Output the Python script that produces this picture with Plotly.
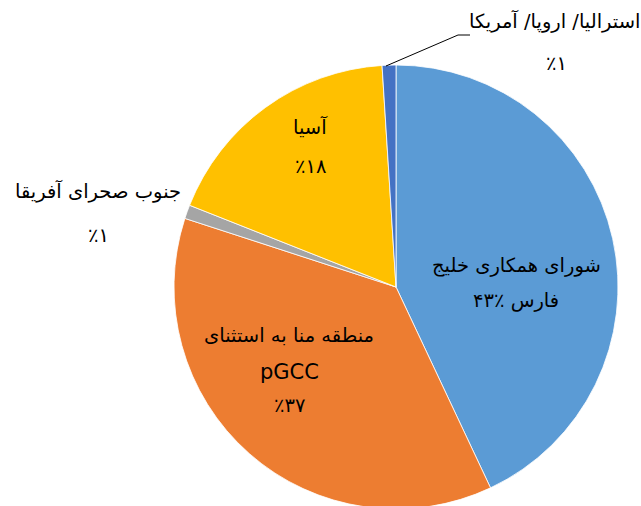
import plotly.graph_objects as go

# ---- data ----
categories = ["شورای همکاری خلیج فارس", "منطقه منا به استثنای pGCC",
              "جنوب صحرای آفریقا", "آسیا", "استرالیا/ اروپا/ آمریکا"]
values = [43, 37, 1, 18, 1]
pct_text = ["٪۴۳", "٪۳۷", "٪۱", "٪۱۸", "٪۱"]
colors = ["#5B9BD5", "#ED7D31", "#A5A5A5", "#FFC000", "#4472C4"]

W, H = 641, 574  # figure taller than window so the pie bottom is cropped like the reference

def px(x):
    return x / W

def py(y):
    return 1 - y / H

fig = go.Figure(go.Pie(
    labels=categories,
    values=values,
    marker=dict(colors=colors, line=dict(color="white", width=0.8)),
    sort=False,
    direction="clockwise",
    rotation=0,
    textinfo="none",
    hoverinfo="label+percent",
    showlegend=False,
    domain=dict(x=[174 / W, 618 / W], y=[0, 1]),
))

FONT = dict(family="DejaVu Sans", size=19.5, color="#000000")
LATIN = dict(family="DejaVu Sans", size=21, color="#000000")

# label lines: (text, x, y, font) in pixels
lines = [
    ("شورای همکاری خلیج", 516, 265, FONT),
    ("فارس " + pct_text[0], 516, 300, FONT),
    ("منطقه منا به استثنای", 289, 335, FONT),
    ("pGCC", 289, 372, LATIN),
    (pct_text[1], 289, 405, FONT),
    ("جنوب صحرای آفریقا", 98, 191, FONT),
    (pct_text[2], 98, 235, FONT),
    (categories[3], 310, 127, FONT),
    (pct_text[3], 310, 167, FONT),
    (categories[4], 555, 21, FONT),
    (pct_text[4], 556, 64, FONT),
]
for t, x, y, f in lines:
    fig.add_annotation(text=t, x=px(x), y=py(y), xref="paper", yref="paper",
                       showarrow=False, font=f, xanchor="center", yanchor="middle")

# leader line for the small top slice
fig.add_shape(type="path",
              path=f"M {px(386)} {py(66)} L {px(458)} {py(35)} L {px(470)} {py(35)}",
              xref="paper", yref="paper", line=dict(color="#000000", width=1))

fig.update_layout(width=W, height=H, margin=dict(l=0, r=0, t=0, b=0),
                  paper_bgcolor="white", plot_bgcolor="white")

fig.write_html("out.html", config={"displayModeBar": False}, post_script=(
    "document.body.style.margin='0';"
    "document.body.style.overflow='hidden';"
    "document.documentElement.style.overflow='hidden';"))
